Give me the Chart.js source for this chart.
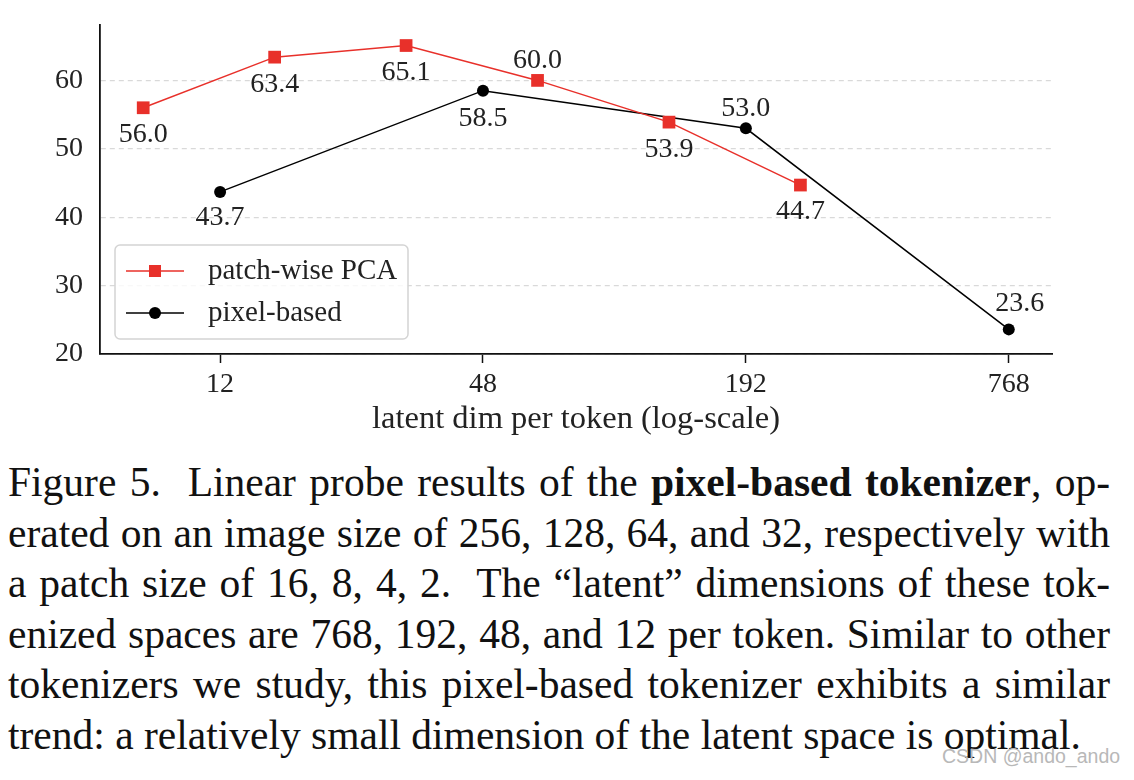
<!DOCTYPE html>
<html>
<head>
<meta charset="utf-8">
<script src="https://cdn.jsdelivr.net/npm/chart.js"></script>
<title>Linear probe - pixel-based tokenizer</title>
<style>
  body { margin:0; background:#fff; width:1134px; height:780px; overflow:hidden; position:relative; }
  #box { position:absolute; left:0; top:0; width:1134px; height:440px; }
  #caption { position:absolute; left:8px; top:457px; width:1102px;
    font-family:"Liberation Serif","Times New Roman",serif; font-size:41.5px; line-height:50.6px; color:#111; }
  #caption div { text-align:justify; text-align-last:justify; white-space:nowrap; }
  #caption div.last { text-align-last:left; }
  #wm { position:absolute; left:942px; top:745px; font-family:"Liberation Sans",sans-serif; font-size:19.5px; color:#b8b8b8; }
</style>
</head>
<body>
<div id="box"><canvas id="myChart"></canvas></div>
<div id="caption">
  <div>Figure 5.&nbsp; Linear probe results of the <b>pixel-based tokenizer</b>, op-</div>
  <div>erated on an image size of 256, 128, 64, and 32, respectively with</div>
  <div>a patch size of 16, 8, 4, 2.&nbsp; The “latent” dimensions of these tok-</div>
  <div>enized spaces are 768, 192, 48, and 12 per token. Similar to other</div>
  <div>tokenizers we study, this pixel-based tokenizer exhibits a similar</div>
  <div class="last">trend: a relatively small dimension of the latent space is optimal.</div>
</div>
<div id="wm">CSDN @ando_ando</div>

<script>
  // data
  const pcaDims = [8, 16, 32, 64, 128, 256];
  const pcaAcc = [56.0, 63.4, 65.1, 60.0, 53.9, 44.7];
  const pixelDims = [12, 48, 192, 768];
  const pixelAcc = [43.7, 58.5, 53.0, 23.6];
  const xTicks = [12, 48, 192, 768];
  const yTicks = [20, 30, 40, 50, 60];

  // label offsets (dx, dy) from each marker
  const pcaLabelOff = [[0,27],[0,27],[0,27],[0,-20],[0,28],[0,27]];
  const pixelLabelOff = [[0,26],[0,28],[0,-20],[11,-26]];

  const serif = "'Liberation Serif', 'Times New Roman', serif";
  const red = '#e8302a';

  const toPts = (xs, ys) => xs.map((x, i) => ({x: x, y: ys[i]}));

  const valueLabels = {
    id: 'valueLabels',
    afterDatasetsDraw(chart) {
      const c = chart.ctx;
      const offs = [pcaLabelOff, pixelLabelOff];
      c.save();
      c.font = '28px ' + serif;
      c.fillStyle = '#222';
      c.textAlign = 'center';
      c.textBaseline = 'middle';
      chart.data.datasets.forEach((ds, di) => {
        chart.getDatasetMeta(di).data.forEach((pt, i) => {
          const o = offs[di][i];
          c.fillText(ds.data[i].y.toFixed(1), pt.x + o[0], pt.y + o[1]);
        });
      });
      c.restore();
    }
  };

  const boxLegend = {
    id: 'boxLegend',
    afterDraw(chart) {
      const c = chart.ctx;
      const x0 = 115, y0 = 245, w = 293, h = 94;
      c.save();
      c.fillStyle = 'rgba(255,255,255,0.8)';
      c.strokeStyle = '#d4d4d4';
      c.lineWidth = 1.5;
      c.beginPath();
      c.roundRect(x0, y0, w, h, 5);
      c.fill(); c.stroke();
      const rows = [271, 313];
      chart.data.datasets.forEach((ds, i) => {
        const y = rows[i];
        c.strokeStyle = ds.borderColor;
        c.lineWidth = 1.5;
        c.beginPath(); c.moveTo(126, y); c.lineTo(184, y); c.stroke();
        c.fillStyle = ds.backgroundColor;
        if (ds.pointStyle === 'rect') c.fillRect(155 - 6, y - 6, 12, 12);
        else { c.beginPath(); c.arc(155, y, ds.pointRadius, 0, Math.PI * 2); c.fill(); }
        c.fillStyle = '#222';
        c.font = '29px ' + serif;
        c.textBaseline = 'middle';
        c.fillText(ds.label, 208, y);
      });
      c.restore();
    }
  };

  new Chart(document.getElementById('myChart'), {
    type: 'line',
    data: {
      datasets: [{
        label: 'patch-wise PCA',
        data: toPts(pcaDims, pcaAcc),
        borderColor: red,
        backgroundColor: red,
        borderWidth: 1.5,
        pointStyle: 'rect',
        pointRadius: 9,
        pointBorderWidth: 0
      }, {
        label: 'pixel-based',
        data: toPts(pixelDims, pixelAcc),
        borderColor: '#000',
        backgroundColor: '#000',
        borderWidth: 1.5,
        pointStyle: 'circle',
        pointRadius: 6,
        pointBorderWidth: 0
      }]
    },
    options: {
      responsive: true,
      maintainAspectRatio: false,
      animation: false,
      layout: { padding: { left: 0, right: 82, top: 25, bottom: 0 } },
      plugins: { legend: { display: false }, tooltip: { enabled: false } },
      scales: {
        x: {
          type: 'logarithmic',
          min: 6.37,
          max: 964.7,
          afterBuildTicks: s => { s.ticks = xTicks.map(v => ({value: v})); },
          afterFit: s => { s.height = 86; s.paddingLeft = 0; s.paddingRight = 0; },
          ticks: {
            color: '#222', padding: 5, maxRotation: 0, autoSkip: false,
            font: { family: serif, size: 28 },
            callback: v => String(v)
          },
          grid: { drawOnChartArea: false, drawTicks: true, tickLength: 9, tickColor: '#111', tickWidth: 1.5 },
          border: { display: true, color: '#111', width: 1.8 },
          title: {
            display: true, text: 'latent dim per token (log-scale)', color: '#222',
            font: { family: serif, size: 32.5 }, padding: { top: 0, bottom: 1 }
          }
        },
        y: {
          min: 20,
          max: 68.1,
          afterBuildTicks: s => { s.ticks = yTicks.map(v => ({value: v})); },
          afterFit: s => { s.width = 100; s.paddingTop = 0; s.paddingBottom = 0; },
          ticks: {
            color: '#222', padding: 17,
            font: { family: serif, size: 28 }
          },
          grid: { color: '#d9d9d9', lineWidth: 1.2, drawTicks: false },
          border: { display: true, color: '#111', width: 1.8, dash: [5, 4] }
        }
      }
    },
    plugins: [valueLabels, boxLegend]
  });
</script>
</body>
</html>
